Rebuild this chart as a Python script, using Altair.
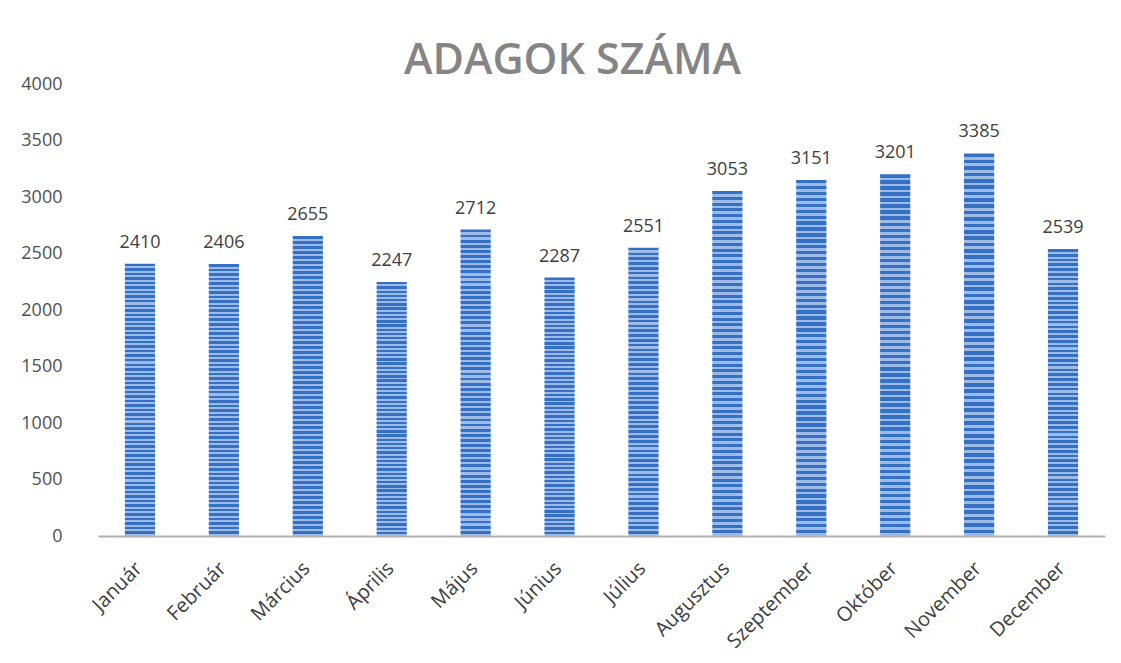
import altair as alt
import pandas as pd

months = ["Január", "Február", "Március", "Április", "Május", "Június",
          "Július", "Augusztus", "Szeptember", "Október", "November", "December"]
values = [2410, 2406, 2655, 2247, 2712, 2287, 2551, 3053, 3151, 3201, 3385, 2539]

df = pd.DataFrame({"month": months, "value": values})

dark = "#3470c4"
light = "#9dbbe6"
n = 60
stops = []
for i in range(n):
    a = i / n
    b = (i + 0.55) / n
    c = (i + 1) / n
    stops += [alt.GradientStop(offset=a, color=dark), alt.GradientStop(offset=b, color=dark),
              alt.GradientStop(offset=b, color=light), alt.GradientStop(offset=c, color=light)]
fill = alt.LinearGradient(gradient="linear", x1=0, x2=0, y1=0, y2=1, stops=stops)

x = alt.X("month:N", sort=months, title=None,
          scale=alt.Scale(paddingInner=0.64, paddingOuter=0.32),
          axis=alt.Axis(labelAngle=-45, labelAlign="right", labelBaseline="top",
                        labelFontSize=20, labelColor="#404040", labelFont="Open Sans",
                        ticks=False, domainColor="#b0b0b0", domainWidth=2,
                        labelPadding=22, labelOffset=-8))
y = alt.Y("value:Q", title=None,
          scale=alt.Scale(domain=[0, 4000]),
          axis=alt.Axis(values=list(range(0, 4001, 500)), format="d", grid=False, domain=False,
                        ticks=False, labelFontSize=18, labelColor="#505050",
                        labelFont="Open Sans", labelPadding=36))

base = alt.Chart(df).encode(x=x, y=y)
bars = base.mark_bar(color=fill)
labels = base.mark_text(baseline="bottom", dy=-12, fontSize=18, color="#404040",
                        font="Open Sans").encode(text="value:Q")

chart = alt.layer(bars, labels).properties(
    width=1007, height=452,
    background="white",
    autosize=alt.AutoSizeParams(type="none"),
    padding={"left": 98, "top": 84, "right": 16, "bottom": 127},
    title=alt.TitleParams("ADAGOK SZÁMA", fontSize=43, font="Open Sans", fontWeight=600,
                          color="#858585", anchor="middle", dx=-29, offset=-8, frame="group"),
).configure_view(stroke=None)

chart.save("out.html", embed_options={"renderer": "svg", "actions": False})
